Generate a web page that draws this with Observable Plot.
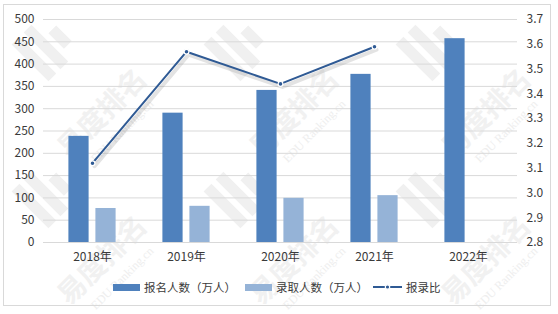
<!DOCTYPE html>
<html><head><meta charset="utf-8">
<script src="https://cdn.jsdelivr.net/npm/d3@7"></script>
<script src="https://cdn.jsdelivr.net/npm/@observablehq/plot@0.6"></script>
<style>
body{margin:0;background:#fff;font-family:"Noto Sans CJK SC","Noto Sans",sans-serif;}
#wrap{position:relative;width:558px;height:314px;overflow:hidden;}
#wm{position:absolute;left:0;top:0;}
#frame{position:absolute;left:3px;top:4px;width:548px;height:302px;border:1px solid #d9d9d9;box-sizing:border-box;}
#chart{position:absolute;left:0;top:0;}
.lg{position:absolute;top:278px;height:18px;display:flex;align-items:center;font-size:11.5px;color:#3a3a3a;white-space:nowrap;}
.sw{width:27px;height:7px;margin-right:4px;}
</style></head>
<body><div id="wrap"><svg id="wm" width="558" height="314"></svg><div id="frame"></div><div id="chart"></div>
<div class="lg" style="left:113px"><div class="sw" style="background:#4f81bd"></div>报名人数（万人）</div>
<div class="lg" style="left:245px"><div class="sw" style="background:#95b3d7"></div>录取人数（万人）</div>
<div class="lg" style="left:373px"><svg width="29" height="8" style="margin-right:4px"><line x1="0" x2="29" y1="4" y2="4" stroke="#2f5a94" stroke-width="2"/><circle cx="14.5" cy="4" r="2.2" fill="#2f5a94" stroke="#fff" stroke-width="1.2"/></svg>报录比</div>
</div>
<script>
const years = ["2018年","2019年","2020年","2021年","2022年"];
const applicants = [238, 290, 341, 377, 457];
const admitted = [76.25, 81.13, 99.05, 105.07, null];
const ratio = [3.12, 3.57, 3.44, 3.59, null];
const leftTicks = [0,50,100,150,200,250,300,350,400,450,500];
const rightTicks = [2.8,2.9,3.0,3.1,3.2,3.3,3.4,3.5,3.6,3.7];
const watermarkText = "易度排名";
const watermarkSub = "EDU Ranking.cn";

// faint background watermark (decoration)
(function(){
  const svg = d3.select("#wm");
  const cols = [47, 239, 431], rowsY = [46, 193];
  for (const ly of rowsY) for (const lx of cols) {
    const g = svg.append("g").attr("transform", `translate(${lx},${ly}) rotate(-45)`).attr("fill", "#f0f0f0");
    g.append("rect").attr("x", -24).attr("y", -26).attr("width", 11).attr("height", 52);
    g.append("rect").attr("x", -7).attr("y", -26).attr("width", 11).attr("height", 52);
    g.append("rect").attr("x", 10).attr("y", -8).attr("width", 11).attr("height", 22);
    svg.append("text").attr("transform", `translate(${lx+55},${ly+67}) rotate(-45)`)
      .attr("text-anchor", "middle").attr("dy", "0.35em").attr("font-size", 28).attr("font-weight", 700)
      .attr("font-family", '"Noto Sans CJK SC",sans-serif').attr("fill", "#f1f1f1").text(watermarkText);
    svg.append("text").attr("transform", `translate(${lx+75},${ly+85}) rotate(-45)`)
      .attr("text-anchor", "middle").attr("dy", "0.35em").attr("font-size", 12)
      .attr("font-family", '"Liberation Serif",serif').attr("fill", "#eeeeee").text(watermarkSub);
  }
})();

const W = 558, H = 265, ML = 43, MR = 41;
const bw = (W - ML - MR) / years.length;
const rMin = 2.8, rMax = 3.7;
const toLeft = r => (r - rMin) / (rMax - rMin) * 500;

const rows = years.map((y, i) => ({year: y, a: applicants[i], b: admitted[i], r: ratio[i]}));
const lineRows = rows.filter(d => d.r != null);
const txt = "#3a3a3a";

const chart = Plot.plot({
  width: W, height: H,
  marginLeft: ML, marginRight: MR, marginTop: 19, marginBottom: 23,
  style: {fontFamily: '"Noto Sans CJK SC","Noto Sans",sans-serif', fontSize: "12px", color: txt, background: "transparent"},
  x: {type: "band", domain: years, paddingInner: 0, paddingOuter: 0},
  y: {domain: [0, 500]},
  marks: [
    Plot.gridY(leftTicks, {stroke: "#d9d9d9", strokeOpacity: 1}),
    Plot.barY(rows, {x: "year", y: "a", fill: "#4f81bd", insetLeft: bw/2 - 24, insetRight: bw/2 + 3}),
    Plot.barY(rows.filter(d => d.b != null), {x: "year", y: "b", fill: "#95b3d7", insetLeft: bw/2 + 3, insetRight: bw/2 - 24}),
    Plot.line(lineRows, {x: "year", y: d => toLeft(d.r), stroke: "#7f7f7f", strokeOpacity: 0.22, strokeWidth: 4, dx: 2, dy: 3}),
    Plot.line(lineRows, {x: "year", y: d => toLeft(d.r), stroke: "#2f5a94", strokeWidth: 2}),
    Plot.dot(lineRows, {x: "year", y: d => toLeft(d.r), r: 2.4, fill: "#2f5a94", stroke: "#fff", strokeWidth: 1.2}),
    Plot.axisY(leftTicks, {anchor: "left", tickSize: 0, tickPadding: 9, fontSize: 12, fill: txt}),
    Plot.axisY(rightTicks.map(toLeft), {anchor: "right", tickSize: 0, tickPadding: 9, fontSize: 12, fill: txt,
      tickFormat: d => (d / 500 * (rMax - rMin) + rMin).toFixed(1)}),
    Plot.axisX(years, {tickSize: 0, tickPadding: 10, fontSize: 12, fill: txt, label: null})
  ]
});
document.getElementById("chart").appendChild(chart);
</script>
</body></html>
